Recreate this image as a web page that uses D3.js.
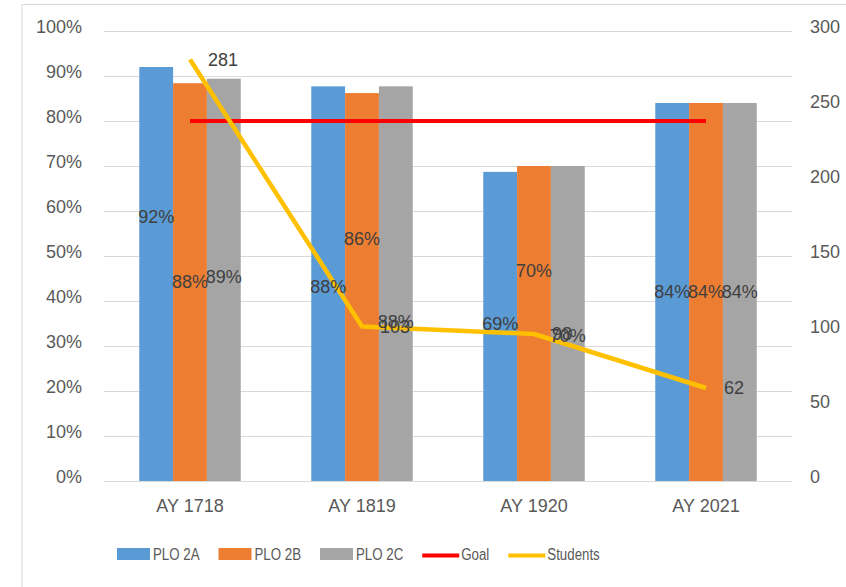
<!DOCTYPE html>
<html>
<head>
<meta charset="utf-8">
<script src="https://cdn.jsdelivr.net/npm/d3@7"></script>
<style>
  body { margin: 0; background: #fff; }
  svg { display: block; font-family: "Liberation Sans", Arial, sans-serif; }
</style>
</head>
<body>
<div id="chart"></div>
<script>
const years = ["AY 1718", "AY 1819", "AY 1920", "AY 2021"];
const seriesNames = ["PLO 2A", "PLO 2B", "PLO 2C"];
const plo2a = [0.92, 0.877, 0.687, 0.84];
const plo2b = [0.884, 0.862, 0.70, 0.84];
const plo2c = [0.894, 0.877, 0.70, 0.84];
const goal = [0.8, 0.8, 0.8, 0.8];
const students = [281, 103, 98, 62];
const pctTicks = [0, 0.1, 0.2, 0.3, 0.4, 0.5, 0.6, 0.7, 0.8, 0.9, 1];
const countTicks = [0, 50, 100, 150, 200, 250, 300];

// labels were dragged around in the original, pixel nudges from bar middle
const labelNudge = [[-57, 3, -3, 0], [0, -48, -53, 0], [-3, 38, 12, 0]];

const W = 846, H = 587;
const margin = { left: 104, right: 54, top: 31, bottom: 106 };
const colors = ["#5B9BD5", "#ED7D31", "#A5A5A5"];

const svg = d3.select("#chart").append("svg").attr("width", W).attr("height", H);

// chart frame
svg.append("path").attr("d", `M22,${H}V4.5H${W}`).attr("fill", "none").attr("stroke", "#d9d9d9");

const x0 = d3.scaleBand().domain(years).range([margin.left, W - margin.right]).paddingInner(0.41).paddingOuter(0.205);
const x1 = d3.scaleBand().domain(seriesNames).range([0, x0.bandwidth()]);
const y = d3.scaleLinear().domain([0, 1]).range([H - margin.bottom, margin.top]);
const y2 = d3.scaleLinear().domain([0, 300]).range([H - margin.bottom, margin.top]);
const cx = d => x0(d) + x0.bandwidth() / 2;

// grid
svg.append("g").selectAll("line").data(pctTicks).join("line")
  .attr("x1", margin.left).attr("x2", W - margin.right)
  .attr("y1", d => Math.round(y(d)) + 0.5).attr("y2", d => Math.round(y(d)) + 0.5)
  .attr("stroke", "#d9d9d9");

const leftAxis = svg.append("g").attr("transform", `translate(${margin.left},0)`)
  .call(d3.axisLeft(y).tickValues(pctTicks).tickFormat(d3.format(".0%")).tickSize(0).tickPadding(22));
const rightAxis = svg.append("g").attr("transform", `translate(${W - margin.right},0)`)
  .call(d3.axisRight(y2).tickValues(countTicks).tickSize(0).tickPadding(18));
const bottomAxis = svg.append("g").attr("transform", `translate(0,${H - margin.bottom})`)
  .call(d3.axisBottom(x0).tickSize(0).tickPadding(18));

[leftAxis, rightAxis, bottomAxis].forEach(g => {
  g.select(".domain").remove();
  g.selectAll("text").attr("font-size", 18).attr("fill", "#595959").attr("font-family", null);
});
leftAxis.selectAll("text").attr("dy", "0.1em");
rightAxis.selectAll("text").attr("dy", "0.1em");

// bars
const series = [plo2a, plo2b, plo2c];
const barData = [];
series.forEach((vals, si) => vals.forEach((v, i) => barData.push({ si, i, v })));

svg.append("g").selectAll("rect").data(barData).join("rect")
  .attr("x", d => x0(years[d.i]) + x1(seriesNames[d.si]))
  .attr("width", x1.bandwidth())
  .attr("y", d => y(d.v))
  .attr("height", d => y(0) - y(d.v))
  .attr("fill", d => colors[d.si]);

// baseline
svg.append("line").attr("x1", margin.left).attr("x2", W - margin.right)
  .attr("y1", y(0) + 0.5).attr("y2", y(0) + 0.5).attr("stroke", "#d9d9d9");

// goal + students lines
svg.append("path").datum(goal)
  .attr("d", d3.line().x((d, i) => cx(years[i])).y(d => y(d)))
  .attr("fill", "none").attr("stroke", "#FF0000").attr("stroke-width", 4);

svg.append("path").datum(students)
  .attr("d", d3.line().x((d, i) => cx(years[i])).y(d => y2(d)))
  .attr("fill", "none").attr("stroke", "#FFC000").attr("stroke-width", 4.5)
  .attr("stroke-linejoin", "round");

// data labels
svg.append("g").selectAll("text").data(barData).join("text")
  .attr("x", d => x0(years[d.i]) + x1(seriesNames[d.si]) + x1.bandwidth() / 2)
  .attr("y", d => (y(0) + y(d.v)) / 2 + labelNudge[d.si][d.i])
  .attr("dy", "0.35em")
  .attr("text-anchor", "middle")
  .attr("font-size", 18).attr("fill", "#404040")
  .text(d => d3.format(".0%")(d.v));

svg.append("g").selectAll("text").data(students).join("text")
  .attr("x", (d, i) => cx(years[i]) + 18)
  .attr("y", d => y2(d))
  .attr("dy", "0.35em")
  .attr("font-size", 18).attr("fill", "#404040")
  .text(d => d);

// legend
const legendItems = [
  { name: "PLO 2A", type: "rect", color: colors[0] },
  { name: "PLO 2B", type: "rect", color: colors[1] },
  { name: "PLO 2C", type: "rect", color: colors[2] },
  { name: "Goal", type: "line", color: "#FF0000" },
  { name: "Students", type: "line", color: "#FFC000" }
];
const legend = svg.append("g");
let lx = 117;
const ly = 554;
legendItems.forEach(item => {
  const g = legend.append("g").attr("transform", `translate(${lx},${ly})`);
  if (item.type === "rect") {
    g.append("rect").attr("x", 0).attr("y", -6).attr("width", 33).attr("height", 12).attr("fill", item.color);
  } else {
    g.append("line").attr("x1", 0).attr("x2", 37).attr("y1", 1.5).attr("y2", 1.5)
      .attr("stroke", item.color).attr("stroke-width", 4);
  }
  const t = g.append("text").attr("x", item.type === "rect" ? 36 : 39).attr("dy", "0.35em")
    .attr("font-size", 16).attr("fill", "#595959").text(item.name);
  // squeeze a little, the original face is narrower
  const w = t.node().getComputedTextLength() * 0.83;
  t.attr("textLength", w).attr("lengthAdjust", "spacingAndGlyphs");
  lx += (item.type === "rect" ? 36 : 39) + w + 19;
});
</script>
</body>
</html>
